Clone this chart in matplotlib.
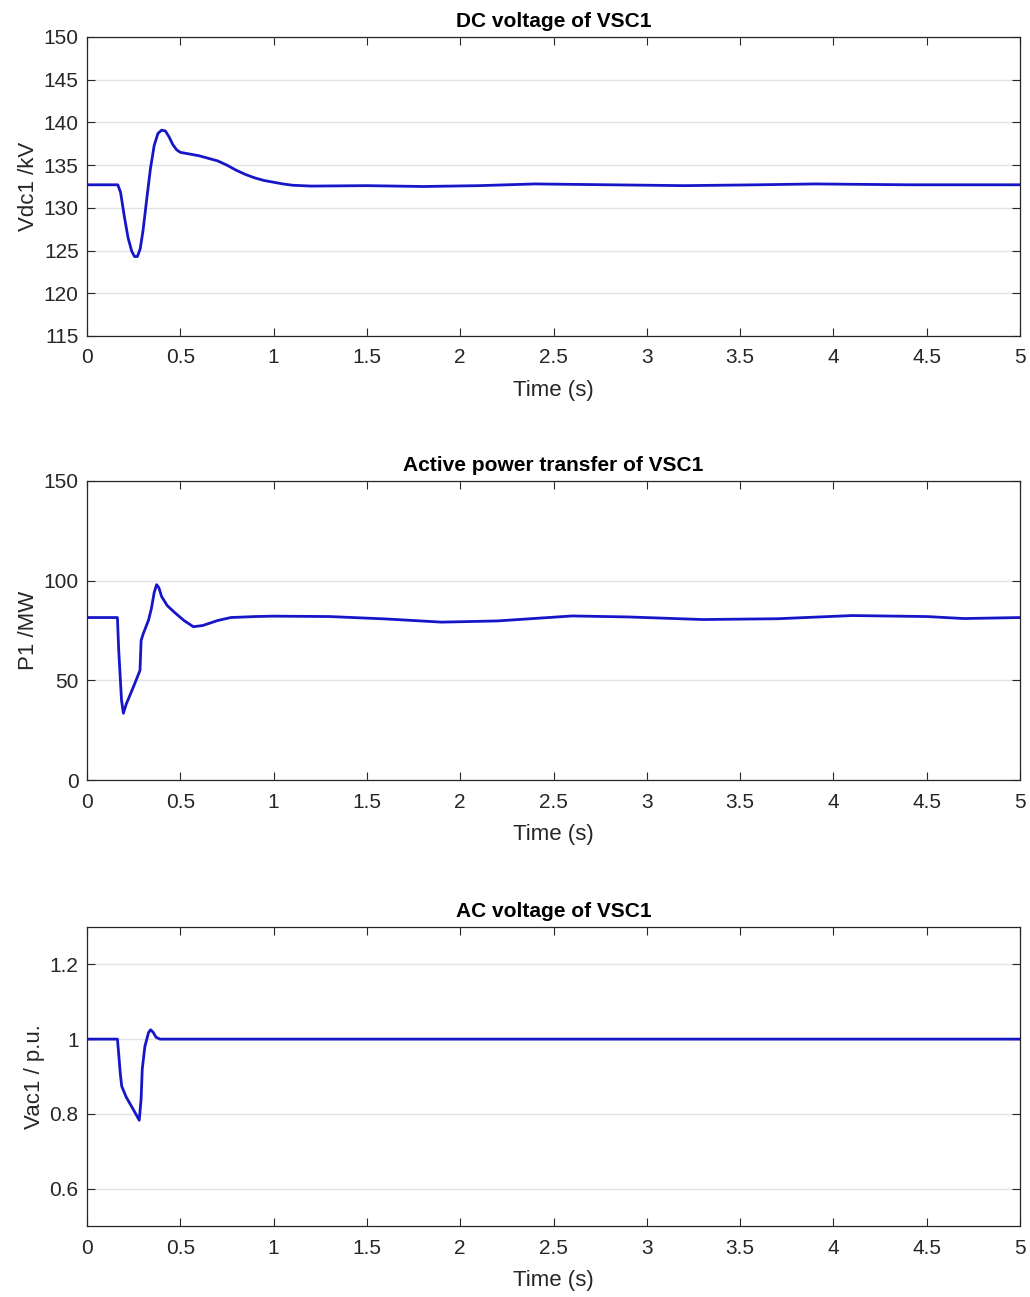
import numpy as np
import matplotlib.pyplot as plt

plt.rcParams['font.family'] = ['Liberation Sans', 'DejaVu Sans']

# DC voltage of VSC1 (kV)
t_vdc = [0, 0.165, 0.18, 0.20, 0.22, 0.24, 0.255, 0.27, 0.285, 0.30, 0.32, 0.34, 0.36, 0.38, 0.40,
         0.42, 0.44, 0.46, 0.48, 0.50, 0.55, 0.60, 0.65, 0.70, 0.75, 0.80, 0.85, 0.90, 0.95, 1.00,
         1.05, 1.10, 1.20, 1.5, 1.8, 2.1, 2.4, 2.8, 3.2, 3.6, 3.9, 4.4, 5.0]
vdc = [132.7, 132.7, 131.8, 129.0, 126.5, 124.9, 124.3, 124.3, 125.2, 127.3, 131.0, 134.6, 137.3, 138.7, 139.1,
       139.0, 138.3, 137.4, 136.8, 136.5, 136.3, 136.1, 135.8, 135.5, 135.0, 134.4, 133.9, 133.5, 133.2, 133.0,
       132.8, 132.65, 132.55, 132.6, 132.5, 132.6, 132.8, 132.7, 132.6, 132.7, 132.8, 132.7, 132.7]

# Active power of VSC1 (MW)
t_p = [0, 0.163, 0.17, 0.185, 0.195, 0.21, 0.25, 0.284, 0.29, 0.30, 0.33, 0.345, 0.36, 0.373, 0.385,
       0.40, 0.43, 0.47, 0.52, 0.57, 0.62, 0.70, 0.77, 0.9, 1.0, 1.3, 1.6, 1.9, 2.2, 2.6, 2.9, 3.3, 3.7, 4.1, 4.5, 4.7, 5.0]
p1 = [81.5, 81.5, 65.0, 40.0, 33.5, 38.0, 47.0, 55.0, 70.0, 73.0, 80.3, 86.0, 94.0, 98.0, 96.5,
      92.0, 87.5, 84.0, 80.0, 76.9, 77.5, 80.0, 81.5, 82.0, 82.2, 82.0, 80.8, 79.2, 79.8, 82.3, 81.8, 80.5, 80.9, 82.5, 82.0, 81.0, 81.5]

# AC voltage of VSC1 (p.u.)
t_vac = [0, 0.163, 0.17, 0.178, 0.186, 0.21, 0.25, 0.28, 0.29, 0.296, 0.31, 0.33, 0.341, 0.355, 0.37,
         0.391, 0.5, 1.0, 2.0, 3.0, 4.0, 5.0]
vac = [1.0, 1.0, 0.96, 0.91, 0.874, 0.845, 0.81, 0.783, 0.84, 0.919, 0.98, 1.018, 1.025, 1.018, 1.005,
       1.0, 1.0, 1.0, 1.0, 1.0, 1.0, 1.0]

panels = [
    (t_vdc, vdc, 'DC voltage of VSC1', 'Vdc1 /kV', (115, 150), np.arange(115, 151, 5)),
    (t_p, p1, 'Active power transfer of VSC1', 'P1 /MW', (0, 150), [0, 50, 100, 150]),
    (t_vac, vac, 'AC voltage of VSC1', 'Vac1 / p.u.', (0.5, 1.3), [0.6, 0.8, 1, 1.2]),
]

fig = plt.figure(figsize=(10.3, 12.97), dpi=100)
tops = [37, 481, 927]
for (t, y, title, ylab, ylim, yt), top in zip(panels, tops):
    ax = fig.add_axes([87 / 1030, 1 - (top + 299) / 1297, 933 / 1030, 299 / 1297])
    ax.plot(t, y, color='#1616c8', lw=2.0)
    ax.set_xlim(0, 5)
    ax.set_ylim(*ylim)
    ax.set_xticks(np.arange(0, 5.01, 0.5))
    ax.set_xticklabels(['0', '0.5', '1', '1.5', '2', '2.5', '3', '3.5', '4', '4.5', '5'])
    ax.set_yticks(yt)
    ax.set_yticklabels([('%g' % v) for v in yt])
    ax.yaxis.grid(True, color='#e3e3e3', lw=1)
    ax.set_axisbelow(True)
    ax.tick_params(direction='in', top=True, right=True, labelsize=15, length=6,
                   color='#262626', labelcolor='#262626')
    ax.tick_params(axis='x', pad=9)
    ax.tick_params(axis='y', pad=6)
    for s in ax.spines.values():
        s.set_color('#262626')
        s.set_linewidth(0.9)
    ax.set_title(title, fontsize=15, fontweight='bold', color='black', pad=7)
    ax.set_xlabel('Time (s)', fontsize=16, color='#262626', labelpad=9)
    ax.set_ylabel(ylab, fontsize=16, color='#262626', labelpad=3)

fig.savefig('out.png', dpi=100)
